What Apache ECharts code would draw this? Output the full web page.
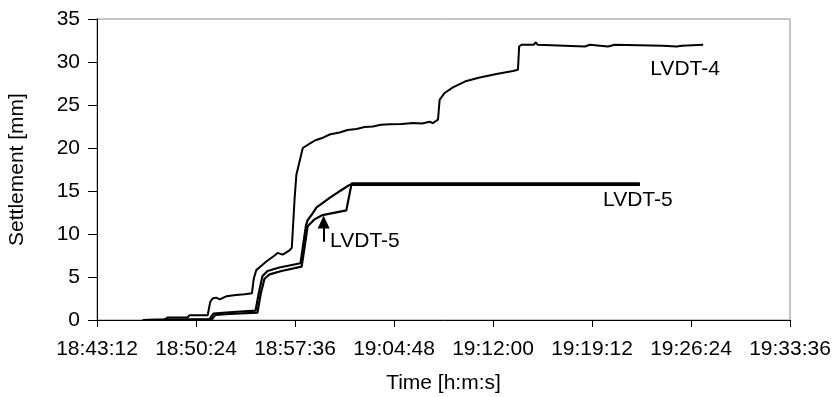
<!DOCTYPE html>
<html>
<head>
<meta charset="utf-8">
<script src="https://cdn.jsdelivr.net/npm/echarts@6/dist/echarts.min.js"></script>
<style>html,body{margin:0;padding:0;background:#fff}#c{width:833px;height:397px}</style>
</head>
<body>
<div id="c"></div>
<script>
// ---- data ----
const xTickStart = '18:43:12';
const xTickEnd = '19:33:36';
const xTickStepSec = 432; // 7:12
const yMin = 0, yMax = 35, yStep = 5;

const lvdt4Times = ['18:46:32','18:48:06','18:48:21','18:49:47','18:49:56','18:51:15','18:51:26','18:51:36','18:51:52','18:52:07','18:52:36','18:53:19','18:53:56','18:54:28','18:54:36','18:54:47','18:54:54','18:55:31','18:56:07','18:56:20','18:56:42','18:57:12','18:57:22','18:57:34','18:57:42','18:57:52','18:58:10','18:58:40','18:59:05','18:59:38','19:00:10','19:00:51','19:01:25','19:02:04','19:02:40','19:03:16','19:03:50','19:04:29','19:05:20','19:06:11','19:06:50','19:07:24','19:07:37','19:08:00','19:08:07','19:08:29','19:09:05','19:10:04','19:11:02','19:12:15','19:13:27','19:13:49','19:13:54','19:14:04','19:14:40','19:14:58','19:15:07','19:15:15','19:18:41','19:19:02','19:20:22','19:20:51','19:24:21','19:25:22','19:25:44','19:27:17'];
const lvdt4Values = [0,0.05,0.3,0.3,0.55,0.55,2.1,2.5,2.6,2.4,2.75,2.9,3.0,3.1,4.8,5.8,6.0,6.8,7.5,7.8,7.6,8.1,8.4,14.0,16.9,18.0,20.0,20.5,20.9,21.2,21.6,21.8,22.1,22.2,22.45,22.5,22.7,22.75,22.8,22.9,22.85,23.05,22.9,23.3,25.6,26.4,27.05,27.8,28.2,28.6,28.95,29.1,31.8,32.0,32.0,32.0,32.3,32.0,31.8,32.0,31.8,32.0,31.9,31.8,31.9,32.0];

const lvdt5aTimes = ['18:46:32','18:51:23','18:51:40','18:52:50','18:54:44','18:54:57','18:55:14','18:55:36','18:56:28','18:58:00','18:58:13','18:58:24','18:58:31','18:58:53','18:59:10','18:59:36','19:00:07','19:01:04','19:01:34','19:22:41'];
const lvdt5aValues = [0,0.1,0.75,0.9,1.1,3.0,5.1,5.7,6.1,6.6,9.0,11.0,11.6,12.4,13.1,13.6,14.2,15.2,15.72,15.72];

const lvdt5bTimes = ['18:46:32','18:51:32','18:51:49','18:52:50','18:54:52','18:55:06','18:55:23','18:55:45','18:56:37','18:58:05','18:58:18','18:58:31','18:59:01','18:59:36','19:01:20','19:01:43','19:22:41'];
const lvdt5bValues = [0,0.05,0.6,0.7,0.85,3.0,4.8,5.3,5.7,6.2,8.5,10.9,11.7,12.2,12.75,15.88,15.88];

// annotations: [time, value, text]
const labelLvdt4 = ['19:23:24', 29.2, 'LVDT-4'];
const labelLvdt5Right = ['19:19:58', 13.92, 'LVDT-5'];
const labelLvdt5Arrow = ['19:00:07', 9.19, 'LVDT-5'];
const arrowTime = '18:59:41';
const arrowFrom = 9.1, arrowTo = 11.4;

// ---- helpers ----
function toSec(s){const p=s.split(':').map(Number);return p[0]*3600+p[1]*60+p[2];}
function fmt(v){v=Math.round(v);const h=Math.floor(v/3600),m=Math.floor(v%3600/60),s=v%60;return h+':'+String(m).padStart(2,'0')+':'+String(s).padStart(2,'0');}
function pairs(ts,vs){return ts.map((t,i)=>[toSec(t),vs[i]]);}

const FONT = 'Liberation Sans, Arial, sans-serif';
const FS = 21;
const labelStyle = {show:true, position:'right', distance:0, color:'#000', fontSize:FS, fontFamily:FONT, formatter: p => p.name};
function mp(l){return {name:l[2], coord:[toSec(l[0]), l[1]]};}

const chart = echarts.init(document.getElementById('c'), null, {renderer:'canvas'});
chart.setOption({
  animation:false,
  backgroundColor:'#fff',
  grid:{left:97,right:43,top:19,bottom:77,show:true,borderColor:'#8a8a8a',borderWidth:1,containLabel:false,outerBoundsMode:'none'},
  xAxis:{
    type:'value', min:toSec(xTickStart), max:toSec(xTickEnd), interval:xTickStepSec,
    name:'Time [h:m:s]', nameLocation:'middle', nameGap:53,
    nameTextStyle:{color:'#000',fontSize:FS,fontFamily:FONT},
    axisLine:{show:true,onZero:false,lineStyle:{color:'#000',width:1}},
    axisTick:{show:true,length:7,lineStyle:{color:'#000'}},
    axisLabel:{formatter:fmt,color:'#000',fontSize:FS,fontFamily:FONT,margin:19,showMinLabel:true,showMaxLabel:true},
    splitLine:{show:false}
  },
  yAxis:{
    type:'value', min:yMin, max:yMax, interval:yStep,
    name:'Settlement [mm]', nameLocation:'middle', nameGap:69, nameRotate:90,
    nameTextStyle:{color:'#000',fontSize:FS,fontFamily:FONT},
    axisLine:{show:true,lineStyle:{color:'#000',width:1}},
    axisTick:{show:true,length:9,lineStyle:{color:'#000'}},
    axisLabel:{color:'#000',fontSize:FS,fontFamily:FONT,margin:17},
    splitLine:{show:false}
  },
  series:[
    {name:'LVDT-4',type:'line',data:pairs(lvdt4Times,lvdt4Values),showSymbol:false,symbol:'none',
     lineStyle:{color:'#000',width:2},z:3,
     markPoint:{symbol:'circle',symbolSize:1,itemStyle:{color:'transparent'},label:labelStyle,data:[mp(labelLvdt4)],silent:true}},
    {name:'LVDT-5a',type:'line',data:pairs(lvdt5aTimes,lvdt5aValues),showSymbol:false,symbol:'none',
     lineStyle:{color:'#000',width:2.2},z:3},
    {name:'LVDT-5b',type:'line',data:pairs(lvdt5bTimes,lvdt5bValues),showSymbol:false,symbol:'none',
     lineStyle:{color:'#000',width:2.2},z:3,
     markPoint:{symbol:'circle',symbolSize:1,itemStyle:{color:'transparent'},label:labelStyle,data:[mp(labelLvdt5Right),mp(labelLvdt5Arrow)],silent:true},
     markLine:{silent:true,symbol:['none','triangle'],symbolSize:[12,13],label:{show:false},
       lineStyle:{color:'#000',width:2,type:'solid'},
       data:[[{coord:[toSec(arrowTime),arrowFrom]},{coord:[toSec(arrowTime),arrowTo]}]]}}
  ]
});
</script>
</body>
</html>
